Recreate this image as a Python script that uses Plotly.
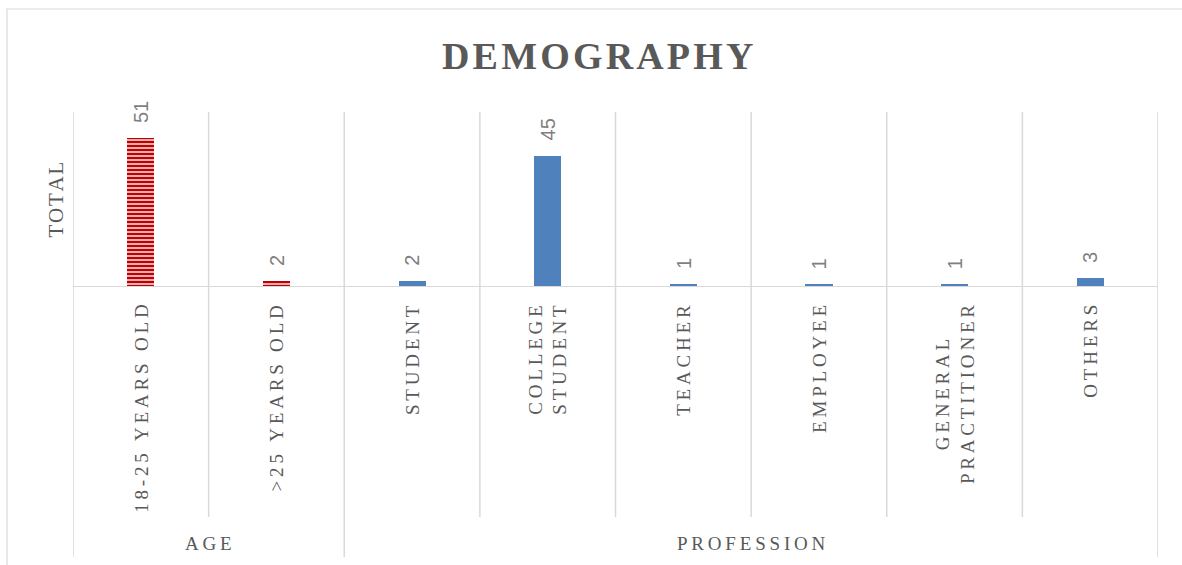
import plotly.graph_objects as go

# ---- data ----
categories = ["18-25 YEARS OLD", ">25 YEARS OLD", "STUDENT", "COLLEGE<br>STUDENT",
              "TEACHER", "EMPLOYEE", "GENERAL<br>PRACTITIONER", "OTHERS"]
groups = ["AGE", "AGE", "PROFESSION", "PROFESSION", "PROFESSION", "PROFESSION",
          "PROFESSION", "PROFESSION"]
values = [51, 2, 2, 45, 1, 1, 1, 3]
group_names = ["AGE", "PROFESSION"]
title_text = "DEMOGRAPHY"
y_title = "TOTAL"

W, H = 1182, 565
L, R, T, B = 73, 24, 112, 278
PH = H - T - B  # plot height px


def py(px):
    """pixel y -> paper y"""
    return (H - B - px) / PH


def px_x(px):
    return (px - L) / (W - L - R)


def spaced(s, sep="\u2009"):
    lines = s.split("<br>")
    out = []
    for ln in lines:
        words = ln.split(" ")
        out.append((sep + " " + sep).join(sep.join(list(w)) for w in words))
    return "<br>".join(out)


GRID = "#D9D9D9"
TXT = "#595959"
SERIF = "Liberation Serif, DejaVu Serif, serif"

x = list(range(len(categories)))
age_idx = [i for i, g in enumerate(groups) if g == "AGE"]
pro_idx = [i for i, g in enumerate(groups) if g != "AGE"]

fig = go.Figure()
fig.add_trace(go.Bar(
    x=[x[i] for i in age_idx], y=[values[i] for i in age_idx], width=0.2,
    marker=dict(color="#F8DADA", line=dict(width=0),
                pattern=dict(shape="-", fgcolor="#C00000", bgcolor="#F8DADA",
                             size=4, solidity=0.6, fgopacity=1)),
    showlegend=False, hoverinfo="skip"))
fig.add_trace(go.Bar(
    x=[x[i] for i in pro_idx], y=[values[i] for i in pro_idx], width=0.2,
    marker=dict(color="#4F81BD", line=dict(width=0)),
    showlegend=False, hoverinfo="skip"))

shapes = []
n = len(categories)
group_bounds = {-0.5, n - 0.5}
for i in range(1, n):
    if groups[i] != groups[i - 1]:
        group_bounds.add(i - 0.5)
for k in range(n + 1):
    b = k - 0.5
    shapes.append(dict(type="line", xref="x", yref="paper", x0=b, x1=b, y0=0, y1=1,
                       line=dict(color=GRID, width=1.5)))
    ybot = py(557) if b in group_bounds else py(517)
    shapes.append(dict(type="line", xref="x", yref="paper", x0=b, x1=b, y0=0, y1=ybot,
                       line=dict(color=GRID, width=1.5)))
# baseline
shapes.append(dict(type="line", xref="paper", yref="y", x0=0, x1=1, y0=0, y1=0,
                   line=dict(color=GRID, width=2)))
# chart border
shapes.append(dict(type="rect", xref="paper", yref="paper", x0=px_x(7), x1=px_x(1200),
                   y0=py(620), y1=py(9), line=dict(color=GRID, width=1.2)))

ann = []
# data labels
for i, v in enumerate(values):
    ann.append(dict(x=x[i], y=v, xref="x", yref="y", text=str(v), showarrow=False,
                    textangle=-90, yanchor="bottom", xanchor="center", yshift=13,
                    font=dict(family="Liberation Sans, Arial, sans-serif", size=20,
                              color="#7F7F7F")))
# category labels
for i, c in enumerate(categories):
    ann.append(dict(x=x[i], y=py(303), xref="x", yref="paper", text=spaced(c),
                    showarrow=False, textangle=-90, yanchor="top", xanchor="center",
                    align="center",
                    font=dict(family=SERIF, size=19, color=TXT)))
# group labels
for g in group_names:
    idx = [i for i, gg in enumerate(groups) if gg == g]
    cx = (min(idx) + max(idx)) / 2
    ann.append(dict(x=cx, y=py(543), xref="x", yref="paper", text=spaced(g),
                    showarrow=False, yanchor="middle", xanchor="center",
                    font=dict(family=SERIF, size=19, color=TXT)))
# y title
ann.append(dict(x=px_x(55), y=0.5, xref="paper", yref="paper",
                text=spaced(y_title, "\u200a"),
                showarrow=False, textangle=-90, xanchor="center", yanchor="middle",
                font=dict(family=SERIF, size=21, color=TXT)))
# title
ann.append(dict(x=px_x(597), y=py(56), xref="paper", yref="paper",
                text="<b>" + spaced(title_text, "\u200a") + "</b>",
                showarrow=False, xanchor="center", yanchor="middle",
                font=dict(family=SERIF, size=38, color=TXT)))

fig.update_layout(
    width=W, height=H,
    margin=dict(l=L, r=R, t=T, b=B, pad=0),
    paper_bgcolor="white", plot_bgcolor="white",
    xaxis=dict(range=[-0.5, n - 0.5], showticklabels=False, showgrid=False,
               zeroline=False, showline=False, ticks="", fixedrange=True),
    yaxis=dict(range=[0, 60], showticklabels=False, showgrid=False,
               zeroline=False, showline=False, ticks="", fixedrange=True),
    shapes=shapes, annotations=ann, bargap=0,
)

fig.write_html("out.html", config={"displayModeBar": False},
               post_script="document.body.style.margin='0';document.body.style.padding='0';")
